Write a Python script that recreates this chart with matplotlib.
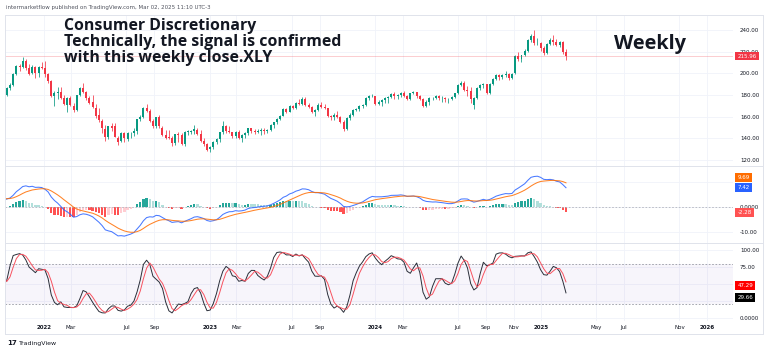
import numpy as np
import pandas as pd
import matplotlib
matplotlib.use("Agg")
import matplotlib.pyplot as plt
import matplotlib.transforms as mtransforms
from matplotlib.lines import Line2D

# weekly XLY bars (Monday of each week), first 30 weeks are only warm-up for the indicators
first_week = "2021-03-15"
opens = [160, 163, 165, 170, 174, 178, 178, 176, 171, 166, 167, 171, 171, 174, 173, 178, 181, 180, 176, 180,
         178, 179, 180, 178, 183, 185, 183, 182, 182, 177,
         # 2021 visible
         180, 186, 189, 199, 207, 206, 211, 205, 200, 206, 200, 206,
         # 2022
         205, 199, 193, 179, 182, 183, 177, 171, 177, 170, 166, 180, 186, 183, 177, 174, 168, 162, 156, 149,
         141, 151, 151, 140, 138, 145, 139, 145, 145, 147, 158, 160, 168, 165, 156, 151, 160, 150, 143, 141,
         140, 136, 144, 143, 135, 146, 146, 147, 148, 144, 138, 135,
         # 2023
         130, 132, 137, 139, 146, 151, 147, 146, 142, 146, 140, 143, 145, 150, 147, 146, 147, 148, 147, 148,
         152, 155, 158, 161, 167, 164, 170, 168, 173, 172, 176, 171, 169, 164, 166, 171, 169, 168, 161, 160,
         162, 160, 155, 149, 159, 162, 166, 167, 170, 171, 177, 179,
         # 2024
         179, 172, 174, 175, 177, 178, 181, 179, 180, 182, 179, 176, 182, 183, 179, 176, 170, 174, 177, 177,
         179, 177, 177, 176, 176, 178, 182, 189, 191, 185, 184, 171, 177, 186, 189, 190, 182, 190, 195, 198,
         197, 198, 199, 196, 200, 216, 213, 217, 221, 231, 234, 228, 228,
         # 2025
         223, 219, 227, 231, 229, 226, 229, 220]
highs = [166, 167, 171, 175, 179, 180, 179, 177, 172, 169, 172, 173, 175, 175, 179, 182, 182, 181, 181, 181,
         181, 182, 181, 184, 186, 186, 185, 184, 183, 181,
         187, 191, 200, 208, 209, 215, 213, 209, 208, 207, 207, 210,
         211, 200, 194, 184, 187, 187, 180, 178, 179, 173, 180, 187, 191, 184, 179, 180, 172, 168, 158, 152,
         151, 154, 154, 142, 146, 146, 146, 146, 150, 158, 162, 169, 172, 167, 158, 160, 162, 151, 148, 148,
         142, 144, 146, 145, 147, 148, 148, 152, 150, 148, 140, 136,
         133, 138, 140, 146, 156, 152, 151, 146, 147, 148, 144, 146, 150, 150, 149, 149, 150, 150, 149, 153,
         155, 159, 162, 168, 168, 171, 171, 174, 176, 178, 178, 173, 170, 167, 173, 174, 172, 168, 162, 163,
         165, 161, 157, 160, 163, 167, 168, 171, 172, 178, 180, 181,
         179, 175, 176, 178, 179, 182, 183, 181, 183, 184, 180, 182, 184, 183, 180, 177, 175, 178, 178, 180,
         180, 179, 178, 177, 179, 182, 190, 193, 193, 188, 187, 178, 187, 190, 191, 190, 191, 196, 199, 199,
         199, 202, 200, 200, 217, 220, 217, 222, 232, 236, 240, 233, 229,
         225, 228, 233, 235, 232, 230, 230, 222]
lows = [158, 160, 163, 169, 173, 176, 174, 169, 163, 162, 166, 169, 170, 171, 172, 177, 178, 174, 175, 176,
        177, 178, 175, 178, 182, 182, 180, 178, 175, 175,
        179, 185, 188, 198, 202, 205, 203, 198, 199, 196, 197, 204,
        197, 191, 178, 170, 176, 176, 171, 164, 170, 164, 165, 179, 182, 175, 172, 168, 159, 155, 145, 138,
        139, 147, 141, 134, 137, 137, 138, 140, 142, 144, 156, 159, 164, 155, 150, 150, 150, 142, 139, 139,
        133, 134, 137, 134, 133, 143, 144, 144, 143, 137, 133, 128,
        127, 130, 135, 137, 144, 145, 145, 140, 140, 139, 137, 140, 143, 145, 144, 145, 143, 144, 145, 147,
        150, 153, 157, 161, 163, 164, 167, 167, 171, 171, 170, 168, 163, 161, 165, 168, 167, 160, 157, 157,
        159, 154, 147, 148, 157, 161, 165, 165, 168, 170, 175, 178,
        171, 171, 170, 173, 173, 177, 176, 176, 178, 178, 175, 175, 181, 177, 175, 169, 169, 171, 175, 176,
        175, 174, 174, 173, 175, 177, 181, 188, 184, 179, 173, 167, 176, 185, 186, 181, 181, 189, 194, 194,
        195, 197, 194, 195, 199, 211, 210, 216, 220, 229, 226, 226, 221,
        217, 218, 226, 226, 225, 224, 218, 212]
closes = [163, 165, 170, 174, 178, 178, 176, 171, 166, 167, 171, 171, 174, 173, 178, 181, 180, 176, 180, 178,
          179, 180, 178, 183, 185, 183, 182, 182, 177, 180,
          186, 189, 199, 207, 206, 211, 205, 199, 206, 200, 206, 205,
          199, 193, 179, 182, 183, 177, 172, 177, 171, 166, 180, 186, 183, 177, 173, 169, 161, 157, 150, 141,
          151, 150, 141, 137, 145, 140, 145, 145, 147, 158, 160, 168, 165, 156, 151, 160, 151, 143, 140, 140,
          136, 144, 143, 135, 146, 146, 147, 149, 144, 138, 135, 129,
          132, 137, 139, 146, 151, 147, 146, 142, 146, 140, 143, 145, 150, 147, 146, 147, 148, 147, 148, 152,
          155, 158, 161, 167, 164, 170, 168, 173, 172, 176, 171, 169, 164, 166, 171, 169, 168, 161, 160, 162,
          160, 155, 149, 159, 162, 166, 167, 170, 171, 177, 179, 179,
          172, 174, 175, 177, 178, 181, 179, 180, 182, 179, 176, 182, 183, 179, 176, 170, 174, 177, 177, 179,
          177, 177, 176, 176, 178, 182, 189, 191, 185, 184, 176, 177, 186, 189, 190, 182, 190, 195, 198, 197,
          198, 199, 196, 199, 216, 213, 217, 221, 231, 234, 228, 228, 223,
          219, 227, 231, 229, 226, 229, 220, 215.96]

# last values printed in the scale labels
macd_last = 7.42
signal_last = 9.69
hist_last = -2.28
k_last = 29.66
d_last = 47.29

x_ticks = ["2022-01-01", "2022-03-01", "2022-07-01", "2022-09-01", "2023-01-01", "2023-03-01",
           "2023-07-01", "2023-09-01", "2024-01-01", "2024-03-01", "2024-07-01", "2024-09-01",
           "2024-11-01", "2025-01-01", "2025-05-01", "2025-07-01", "2025-11-01", "2026-01-01"]
x_labels = ["2022", "Mar", "Jul", "Sep", "2023", "Mar", "Jul", "Sep", "2024", "Mar", "Jul", "Sep",
            "Nov", "2025", "May", "Jul", "Nov", "2026"]

dates = pd.date_range(first_week, periods=len(closes), freq="W-MON")
o = np.array(opens, float)
h = np.array(highs, float)
l = np.array(lows, float)
c = np.array(closes, float)

# indicators
cs = pd.Series(c)
macd = cs.ewm(span=12, adjust=False).mean() - cs.ewm(span=26, adjust=False).mean()
signal = macd.ewm(span=9, adjust=False).mean()
hist = macd - signal
hh = pd.Series(h).rolling(14, min_periods=1).max()
ll = pd.Series(l).rolling(14, min_periods=1).min()
k = (100 * (cs - ll) / (hh - ll)).rolling(3, min_periods=1).mean()
d = k.rolling(3, min_periods=1).mean()

W, H = 768, 353
fig = plt.figure(figsize=(W / 100, H / 100), dpi=100)
fig.patch.set_facecolor("white")


def px_axes(x0, y0, x1, y1):
    return fig.add_axes([x0 / W, 1 - y1 / H, (x1 - x0) / W, (y1 - y0) / H])


def fig_line(x0, y0, x1, y1, color="#e0e3eb", lw=0.7):
    fig.add_artist(Line2D([x0 / W, x1 / W], [1 - y0 / H, 1 - y1 / H], color=color, lw=lw,
                          transform=fig.transFigure))


xlim = (pd.Timestamp("2021-10-07"), pd.Timestamp("2026-02-27"))
tick_pos = pd.to_datetime(x_ticks)


def style(ax, ylim, yticks, ylabels):
    ax.set_xlim(*xlim)
    ax.set_ylim(*ylim)
    ax.set_xticks(tick_pos)
    ax.set_xticklabels([])
    ax.grid(True, color="#f0f3fa", lw=0.6)
    ax.set_axisbelow(True)
    ax.yaxis.tick_right()
    ax.set_yticks(yticks)
    ax.set_yticklabels(ylabels, fontsize=4, color="#131722")
    ax.tick_params(length=0, pad=5)
    for s in ax.spines.values():
        s.set_visible(False)


def scale_label(ax, y, txt, color):
    tr = mtransforms.blended_transform_factory(ax.transAxes, ax.transData)
    ax.text(1.006, y, txt, transform=tr, ha="left", va="center", fontsize=4, color="white",
            bbox=dict(boxstyle="square,pad=0.35", fc=color, ec="none"), clip_on=False, zorder=10)


up_col, dn_col = "#089981", "#f23645"

# price panel
ax_p = px_axes(5, 15, 733, 166)
style(ax_p, (114.5, 253.8), [120, 140, 160, 180, 200, 220, 240],
      ["120.00", "140.00", "160.00", "180.00", "200.00", "220.00", "240.00"])
cols = np.where(c >= o, up_col, dn_col)
ax_p.vlines(dates, l, h, colors=cols, lw=0.55)
ax_p.bar(dates, np.maximum(np.abs(c - o), 0.4), bottom=np.minimum(o, c), width=4.4, color=cols,
         edgecolor="none")
ax_p.axhline(c[-1], color="#f23645", lw=0.5, alpha=0.35)
scale_label(ax_p, c[-1], f"{c[-1]:.2f}", "#f23645")

# MACD panel
ax_m = px_axes(5, 166, 733, 243)
style(ax_m, (-14.4, 16.4), [-10, 0, 10], ["-10.00", "0.0000", ""])
hp = hist.shift(1).fillna(0).values
hv = hist.values
hcols = np.where(hv >= 0, np.where(hv > hp, "#26a69a", "#b2dfdb"),
                 np.where(hv < hp, "#ff5252", "#ffcdd2"))
ax_m.bar(dates, hv, width=5, color=hcols, edgecolor="none")
ax_m.axhline(0, color="#b2b5be", lw=0.6, ls=(0, (2, 2)))
ax_m.plot(dates, macd, color="#2962ff", lw=0.75, alpha=0.85)
ax_m.plot(dates, signal, color="#ff6d00", lw=0.75, alpha=0.85)
scale_label(ax_m, 11.9, f"{signal_last:.2f}", "#ff6d00")
scale_label(ax_m, 7.8, f"{macd_last:.2f}", "#2962ff")
scale_label(ax_m, hist_last, f"{hist_last:.2f}", "#ff5252")

# Stochastic panel
ax_s = px_axes(5, 243, 733, 321)
style(ax_s, (-4.5, 110.4), [0, 25, 50, 75, 100], ["0.0000", "", "", "75.00", "100.00"])
ax_s.axhspan(20, 80, color="#7e57c2", alpha=0.06, lw=0)
ax_s.axhline(80, color="#9598a1", lw=0.6, ls=(0, (2, 2)))
ax_s.axhline(20, color="#9598a1", lw=0.6, ls=(0, (2, 2)))
ax_s.plot(dates, k, color="#2a2e39", lw=0.7)
ax_s.plot(dates, d, color="#f7525f", lw=0.7)
scale_label(ax_s, d_last, f"{d_last:.2f}", "#ff0000")
scale_label(ax_s, k_last, f"{k_last:.2f}", "#000000")
ax_s.set_xticklabels(x_labels, fontsize=4, color="#131722")
ax_s.tick_params(axis="x", pad=3)
for lab in ax_s.get_xticklabels():
    if lab.get_text().isdigit():
        lab.set_fontweight("bold")

# frame and separators
fig_line(5, 14.5, 763, 14.5)
fig_line(5, 334, 763, 334)
fig_line(5, 14.5, 5, 334)
fig_line(763, 14.5, 763, 334)
fig_line(5, 166, 763, 166)
fig_line(5, 243, 763, 243)

# texts
fig.text(6 / W, 1 - 8 / H, "intermarketflow published on TradingView.com, Mar 02, 2025 11:10 UTC-3",
         fontsize=4, color="#50535e", va="center")
fig.text(64 / W, 1 - 18 / H,
         "Consumer Discretionary\nTechnically, the signal is confirmed\nwith this weekly close.XLY",
         fontsize=11.4, fontweight="bold", family="Open Sans", color="#131722", va="top",
         linespacing=1.02)
fig.text(650 / W, 1 - 44 / H, "Weekly", fontsize=14.3, fontweight="bold", family="Open Sans",
         color="#131722", ha="center", va="center")
fig.text(7 / W, 1 - 343 / H, "17", fontsize=5, fontweight="bold", color="#131722", va="center")
fig.text(19 / W, 1 - 343 / H, "TradingView", fontsize=4.5, color="#131722", va="center")

fig.savefig("out.png", dpi=100)
